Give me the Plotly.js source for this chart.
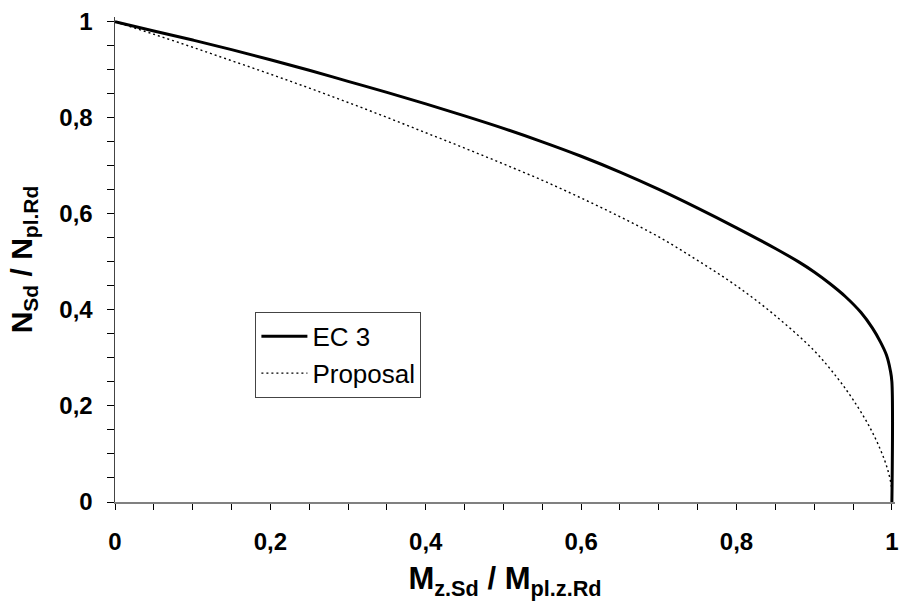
<!DOCTYPE html>
<html>
<head>
<meta charset="utf-8">
<script src="https://cdn.plot.ly/plotly-3.0.1.min.js"></script>
<style>html,body{margin:0;padding:0;background:#fff;}#chart{width:901px;height:614px;}</style>
</head>
<body>
<div id="chart"></div>
<script>
// EC 3 interaction curve (x = Mz.Sd/Mpl.z.Rd, y = NSd/Npl.Rd)
const ec3X = [0, 0.05, 0.1, 0.15, 0.2, 0.25, 0.3, 0.35, 0.4, 0.45, 0.5, 0.55, 0.6, 0.65, 0.7, 0.75, 0.8, 0.85, 0.88, 0.9, 0.92, 0.94, 0.96, 0.975, 0.985, 0.993, 0.998, 1.0, 1.0];
const ec3Y = [1, 0.981, 0.962, 0.942, 0.921, 0.899, 0.876, 0.853, 0.829, 0.804, 0.778, 0.750, 0.720, 0.687, 0.651, 0.612, 0.571, 0.528, 0.500, 0.479, 0.455, 0.428, 0.395, 0.362, 0.334, 0.306, 0.274, 0.250, 0];
// Proposal curve
const propX = [0, 0.05, 0.1, 0.15, 0.2, 0.25, 0.3, 0.35, 0.4, 0.45, 0.5, 0.55, 0.6, 0.65, 0.7, 0.75, 0.8, 0.85, 0.9, 0.93, 0.95, 0.97, 0.985, 0.995, 1.0, 1.0];
const propY = [1, 0.974, 0.947, 0.919, 0.891, 0.862, 0.832, 0.801, 0.769, 0.737, 0.704, 0.670, 0.633, 0.594, 0.552, 0.503, 0.450, 0.388, 0.315, 0.258, 0.213, 0.160, 0.110, 0.065, 0.025, 0];
// Tick labels
const tickVals = [0, 0.2, 0.4, 0.6, 0.8, 1];
const tickText = ["0", "0,2", "0,4", "0,6", "0,8", "1"];
const seriesNames = ["EC 3", "Proposal"];

const traces = [
  {x: ec3X, y: ec3Y, mode: 'lines', name: seriesNames[0], line: {color: '#000', width: 3, shape: 'spline', smoothing: 1}},
  {x: propX, y: propY, mode: 'lines', name: seriesNames[1], line: {color: '#000', width: 1.4, dash: '2px,3px', shape: 'spline', smoothing: 1}}
];

const FAM = '"Liberation Sans", Arial, sans-serif';
const tickFont = {family: FAM, size: 24, color: '#000', weight: 700};
const layout = {
  width: 901, height: 614,
  margin: {l: 115, r: 6, t: 17, b: 112},
  paper_bgcolor: '#fff', plot_bgcolor: '#fff',
  showlegend: true,
  legend: {x: 0.18, y: 0.392, xanchor: 'left', yanchor: 'top', bgcolor: '#fff', bordercolor: '#444', borderwidth: 1,
           font: {family: FAM, size: 26, color: '#000'}, itemwidth: 46, tracegroupgap: 0},
  xaxis: {range: [0, 1.004], tickvals: tickVals, ticktext: tickText, ticks: 'outside', ticklen: 6, tickwidth: 1, tickcolor: '#000',
          showline: true, linecolor: '#808080', linewidth: 2, showgrid: false, zeroline: false, tickfont: tickFont, ticklabelstandoff: 11,
          minor: {dtick: 0.05, ticks: 'outside', ticklen: 6, tickwidth: 1, tickcolor: '#000', showgrid: false},
          title: {text: 'M<sub>z.Sd</sub> / M<sub>pl.z.Rd</sub>', font: {family: FAM, size: 31, color: '#000', weight: 700}, standoff: 14}},
  yaxis: {range: [0, 1.01], tickvals: tickVals, ticktext: tickText, ticks: 'outside', ticklen: 7, tickwidth: 1, tickcolor: '#000',
          showline: true, linecolor: '#444', linewidth: 1.5, showgrid: false, zeroline: false, tickfont: tickFont, ticklabelstandoff: 9,
          minor: {dtick: 0.05, ticks: 'outside', ticklen: 7, tickwidth: 1, tickcolor: '#000', showgrid: false},
          title: {text: 'N<sub>Sd</sub> / N<sub>pl.Rd</sub>', font: {family: FAM, size: 30, color: '#000', weight: 700}, standoff: 18}}
};
Plotly.newPlot('chart', traces, layout, {displayModeBar: false, staticPlot: true});
</script>
</body>
</html>
